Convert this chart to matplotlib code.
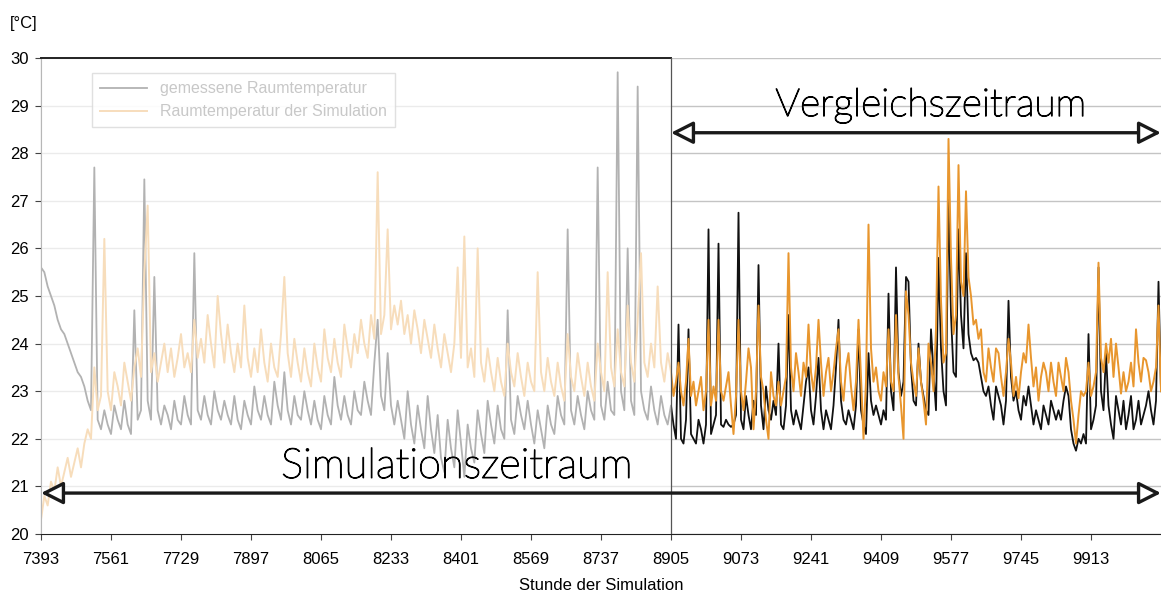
#!/usr/bin/env python3
import numpy as np
import matplotlib
matplotlib.use('Agg')
import matplotlib.pyplot as plt
import matplotlib.patheffects as pe
from matplotlib.patches import Rectangle

plt.rcParams['font.family'] = ['Liberation Sans', 'DejaVu Sans']

# hours of the simulation: faded part every 8 h, comparison part every 6 h
start_hour = 7393
split_hour = 8905
end_hour = 10081
hours_left = np.arange(start_hour, split_hour, 8)
hours_right = np.arange(split_hour, end_hour + 1, 6)

# measured room temperature (black / grey)
measured_left = [
    25.6, 25.5, 25.2, 25.0, 24.8, 24.5, 24.3, 24.2, 24.0, 23.8,
    23.6, 23.4, 23.3, 23.1, 22.8, 22.6, 27.7, 22.4, 22.2, 22.6,
    22.3, 22.1, 22.7, 22.4, 22.2, 22.8, 22.3, 22.1, 24.7, 22.4,
    22.6, 27.45, 22.8, 22.4, 25.4, 22.6, 22.3, 22.7, 22.5, 22.2,
    22.8, 22.4, 22.3, 22.9, 22.5, 22.3, 25.9, 22.6, 22.4, 22.9,
    22.5, 22.3, 23.0, 22.6, 22.4, 22.8, 22.5, 22.3, 22.9, 22.4,
    22.2, 22.8, 22.5, 22.3, 23.1, 22.6, 22.4, 22.9, 22.5, 22.3,
    23.2, 22.7, 22.4, 23.4, 22.6, 22.3, 22.9, 22.5, 22.4, 23.0,
    22.6, 22.3, 22.8, 22.4, 22.2, 22.9, 22.5, 22.3, 23.3, 22.7,
    22.4, 22.9, 22.5, 22.3, 23.0, 22.6, 22.5, 23.2, 22.8, 22.5,
    23.6, 24.5, 22.9, 22.6, 23.8, 22.7, 22.3, 22.8, 22.4, 22.0,
    23.0, 22.3, 21.9, 22.7, 22.2, 21.8, 22.9, 22.2, 21.7, 22.5,
    21.6, 21.3, 22.4, 21.8, 21.4, 22.6, 21.9, 21.2, 22.3, 21.8,
    21.5, 22.6, 22.1, 21.7, 22.8, 22.3, 21.9, 22.7, 22.2, 22.0,
    24.7, 22.4, 22.1, 22.9, 22.5, 22.2, 22.8, 22.3, 21.9, 22.6,
    22.2, 21.8, 22.7, 22.3, 22.1, 22.9, 22.5, 22.3, 26.4, 22.6,
    22.3, 22.9, 22.5, 22.2, 23.0, 22.6, 22.4, 27.7, 22.7, 22.4,
    23.2, 22.6, 22.5, 29.7, 23.0, 22.6, 26.0, 22.8, 22.5, 29.4,
    23.0, 22.6, 22.4, 23.1, 22.6, 22.3, 22.9, 22.5, 22.3,
]
measured_right = [
    22.7, 22.3, 22.0, 24.4, 22.0, 21.9, 22.4, 24.3, 22.1, 22.0,
    21.9, 22.4, 22.2, 21.9, 22.3, 26.4, 22.1, 22.3, 22.5, 26.1,
    22.3, 22.25, 22.4, 22.3, 22.25, 22.3, 22.5, 26.75, 22.4, 22.2,
    22.9, 22.5, 22.2, 22.8, 22.5, 25.65, 22.7, 22.2, 23.1, 22.6,
    22.4, 22.8, 22.5, 24.0, 22.3, 22.2, 22.7, 24.6, 22.6, 22.3,
    22.6, 22.4, 22.2, 22.7, 23.2, 23.5, 22.6, 22.3, 22.9, 23.7,
    22.6, 22.2, 22.6, 22.4, 22.2, 22.7, 23.5, 24.5, 22.8, 22.4,
    22.3, 22.6, 22.4, 22.2, 22.7, 24.3, 22.6, 22.3, 22.1, 23.8,
    22.8, 22.5, 22.7, 22.5, 22.3, 22.6, 22.4, 25.05, 23.0, 22.6,
    25.6, 23.4, 22.9, 23.2, 25.4, 25.3, 23.5, 22.8, 22.7, 24.0,
    23.2, 22.9, 22.6, 22.5, 24.3, 23.4, 22.6, 25.8, 23.9, 23.0,
    22.7, 27.1, 24.6, 23.4, 23.3, 26.4, 24.6, 23.9, 25.9, 24.2,
    23.8, 23.65, 23.7, 23.6, 23.3, 23.0, 22.9, 23.1, 22.7, 22.4,
    23.1, 22.9, 22.7, 22.3, 22.8, 24.9, 23.3, 22.8, 23.0, 22.6,
    22.4, 22.9, 22.7, 23.1, 22.7, 22.3, 22.6, 22.4, 22.2, 22.7,
    22.5, 22.3, 22.8, 22.6, 22.4, 22.6, 22.4, 22.8, 23.1, 22.9,
    22.2, 21.9, 21.75, 22.0, 21.9, 22.1, 21.9, 24.2, 22.2, 22.4,
    22.7, 25.6, 23.0, 22.6, 23.8, 22.7, 22.3, 22.0, 22.9, 22.6,
    22.3, 22.8, 22.2, 22.5, 22.9, 22.2, 22.4, 22.8, 22.3, 22.5,
    22.7, 23.0, 22.6, 22.3, 22.8, 25.3, 23.0,
]

# simulated room temperature (orange)
simulated_left = [
    20.3, 20.8, 20.6, 21.1, 20.9, 21.4, 21.0, 21.3, 21.6, 21.2,
    21.5, 21.8, 21.4, 21.9, 22.2, 22.0, 23.5, 22.6, 22.9, 26.2,
    23.0, 22.6, 23.4, 23.1, 22.7, 23.6, 23.2, 22.8, 23.5, 23.9,
    23.3, 25.5, 26.9, 23.4, 23.8, 23.2, 23.6, 24.0, 23.4, 23.9,
    23.3, 23.7, 24.2, 23.5, 23.8, 23.4, 24.5, 23.7, 24.1, 23.6,
    24.6, 24.0, 23.5, 25.0, 24.2, 23.6, 24.4, 23.8, 23.4, 24.0,
    23.5, 24.8, 23.7, 23.3, 23.9, 23.4, 24.3, 23.6, 23.2, 24.0,
    23.5, 23.3, 24.2, 25.4, 23.8, 23.3, 24.1, 23.6, 23.2, 23.9,
    23.4, 23.1, 24.0, 23.5, 23.2, 24.3, 23.7, 23.4, 24.1, 23.6,
    23.3, 24.4, 23.9, 23.5, 24.2, 23.8, 24.5, 24.0, 23.7, 24.6,
    24.1, 27.6, 24.2, 24.6, 26.4, 24.3, 24.8, 24.4, 24.9, 24.2,
    24.6, 24.0, 24.7, 24.3, 23.8, 24.5, 24.1, 23.7, 24.4, 23.9,
    23.5, 24.2, 23.8, 23.4, 24.0, 25.6, 23.7, 26.25, 23.5, 23.9,
    23.3, 26.0, 23.6, 23.2, 23.9, 23.4, 23.0, 23.7, 23.2, 22.9,
    24.0, 23.4, 23.1, 23.8, 23.3, 22.9, 23.6, 23.2, 23.0, 25.5,
    23.4, 23.0, 23.7, 23.2, 22.9, 23.6, 23.1, 22.8, 24.2, 23.3,
    23.0, 23.8, 23.3, 22.9, 23.6, 23.1, 22.8, 24.0, 23.4, 23.0,
    25.5, 23.5, 23.1, 24.3, 23.4, 23.1, 24.8, 23.6, 23.2, 24.5,
    25.9, 23.6, 23.3, 24.0, 23.5, 25.2, 23.6, 23.2, 23.8,
]
simulated_right = [
    23.4, 22.9, 23.2, 23.6, 23.0, 22.7, 23.2, 24.1, 22.9, 23.2,
    22.7, 23.0, 23.3, 22.6, 23.0, 24.5, 22.7, 23.1, 22.8, 24.5,
    23.0, 22.8, 23.1, 23.4, 22.7, 22.1, 22.9, 24.5, 23.0, 22.6,
    23.2, 23.9, 23.5, 22.2, 23.0, 24.8, 23.3, 23.0, 22.4, 22.0,
    23.4, 22.9, 22.7, 23.2, 22.7, 23.0, 23.3, 25.9, 23.5, 23.0,
    23.8, 23.4, 22.9, 23.6, 23.3, 24.4, 23.4, 23.0, 23.5, 24.5,
    23.6, 22.9, 23.4, 23.7, 23.0, 23.4, 23.9, 24.3, 23.2, 22.8,
    23.5, 23.8, 23.1, 22.6, 23.2, 24.5, 23.3, 22.0, 23.2, 26.5,
    23.9, 23.2, 23.5, 23.0, 22.8, 23.4, 23.1, 24.3, 23.2, 23.0,
    24.6, 23.3, 22.7, 22.0, 25.1, 24.6, 23.6, 23.2, 22.9, 23.9,
    23.2, 22.8, 22.3, 24.0, 23.6, 23.0, 24.3, 27.3, 24.9, 23.6,
    23.8, 28.3, 25.8, 24.2, 24.6, 27.75, 25.3, 25.0, 27.2, 25.4,
    25.0, 24.4, 24.5, 24.1, 24.3, 23.4, 23.2, 23.9, 23.5, 23.2,
    23.9, 23.8, 23.3, 22.9, 23.4, 24.1, 23.6, 22.9, 23.3, 22.85,
    23.4, 23.8, 23.6, 24.4, 23.7, 23.1, 23.5, 22.8, 23.3, 23.6,
    23.4, 23.0, 23.6, 23.2, 22.9, 23.6, 23.3, 23.0, 23.7, 23.4,
    22.8, 22.4, 21.9, 22.5, 23.0, 22.9, 23.0, 23.6, 22.9, 23.1,
    23.4, 25.7, 23.7, 23.4, 24.0, 23.6, 24.1, 23.3, 24.0, 23.5,
    22.95, 23.4, 23.0, 23.2, 23.6, 23.1, 24.3, 23.6, 23.2, 23.7,
    23.65, 23.4, 23.0, 23.2, 23.5, 24.8, 23.0,
]

tick_hours = list(range(start_hour, 9914, 168))
series_labels = ['gemessene Raumtemperatur', 'Raumtemperatur der Simulation']

hours = np.concatenate([hours_left, hours_right])
measured = np.array(measured_left + measured_right)
simulated = np.array(simulated_left + simulated_right)

fig = plt.figure(figsize=(11.61, 5.94), dpi=100)
ax = fig.add_axes([41 / 1161, 60 / 594, 1120 / 1161, 476 / 594])

ax.plot(hours, measured, color='#111111', lw=1.3, label=series_labels[0], zorder=2)
ax.plot(hours, simulated, color='#E8962E', lw=1.4, label=series_labels[1], zorder=2.1)

ax.set_xlim(start_hour, end_hour)
ax.set_ylim(20, 30)
ax.set_yticks(range(20, 31))
ax.set_xticks(tick_hours)
ax.tick_params(axis='both', labelsize=12, length=4, width=0.8, color='#444444')
ax.tick_params(axis='x', pad=9)
ax.tick_params(axis='y', pad=5)
ax.grid(axis='y', color='#c4c4c4', lw=1.0, zorder=0)
ax.set_axisbelow(True)
for side in ['top', 'right']:
    ax.spines[side].set_visible(False)
for side in ['left', 'bottom']:
    ax.spines[side].set_color('#222222')

leg = ax.legend(loc='upper left', bbox_to_anchor=(0.038, 0.985), fontsize=11.5,
                frameon=True, fancybox=False, edgecolor='#888888',
                handlelength=3.0, borderpad=0.5, labelspacing=0.5)
for t in leg.get_texts():
    t.set_color('#555555')
leg.set_zorder(3)

# faded simulation-only part
ax.add_patch(Rectangle((start_hour, 20), split_hour - start_hour, 10,
                       facecolor='white', alpha=0.68, edgecolor='none', zorder=4))
ax.plot([start_hour, split_hour], [30, 30], color='#222222', lw=1.4, zorder=5, clip_on=False)
ax.axvline(split_hour, color='#555555', lw=0.9, zorder=5)

arrow_style = dict(arrowstyle='<|-|>,head_length=0.75,head_width=0.38', fc='white',
                   ec='#1a1a1a', lw=2.4, shrinkA=0, shrinkB=0, mutation_scale=18)
ax.annotate('', xy=(end_hour, 28.43), xytext=(split_hour, 28.43),
            arrowprops=arrow_style, zorder=6, annotation_clip=False)
ax.annotate('', xy=(end_hour, 20.86), xytext=(start_hour, 20.86),
            arrowprops=arrow_style, zorder=6, annotation_clip=False)

# thin wide lettering, thickened slightly with a stroke
big_font = dict(family=['Lato', 'DejaVu Sans'], fontweight='light',
                color='#000000', zorder=6,
                path_effects=[pe.withStroke(linewidth=0.9, foreground='#000000')])
ax.text(9529, 28.78, 'Vergleichszeitraum', ha='center', va='baseline', fontsize=28, **big_font)
ax.text(8391, 21.18, 'Simulationszeitraum', ha='center', va='baseline', fontsize=30, **big_font)

ax.set_xlabel('Stunde der Simulation', fontsize=12, labelpad=8)
fig.text(10 / 1161, 1 - 28 / 594, '[°C]', fontsize=12)

fig.savefig('out.png', dpi=100)
